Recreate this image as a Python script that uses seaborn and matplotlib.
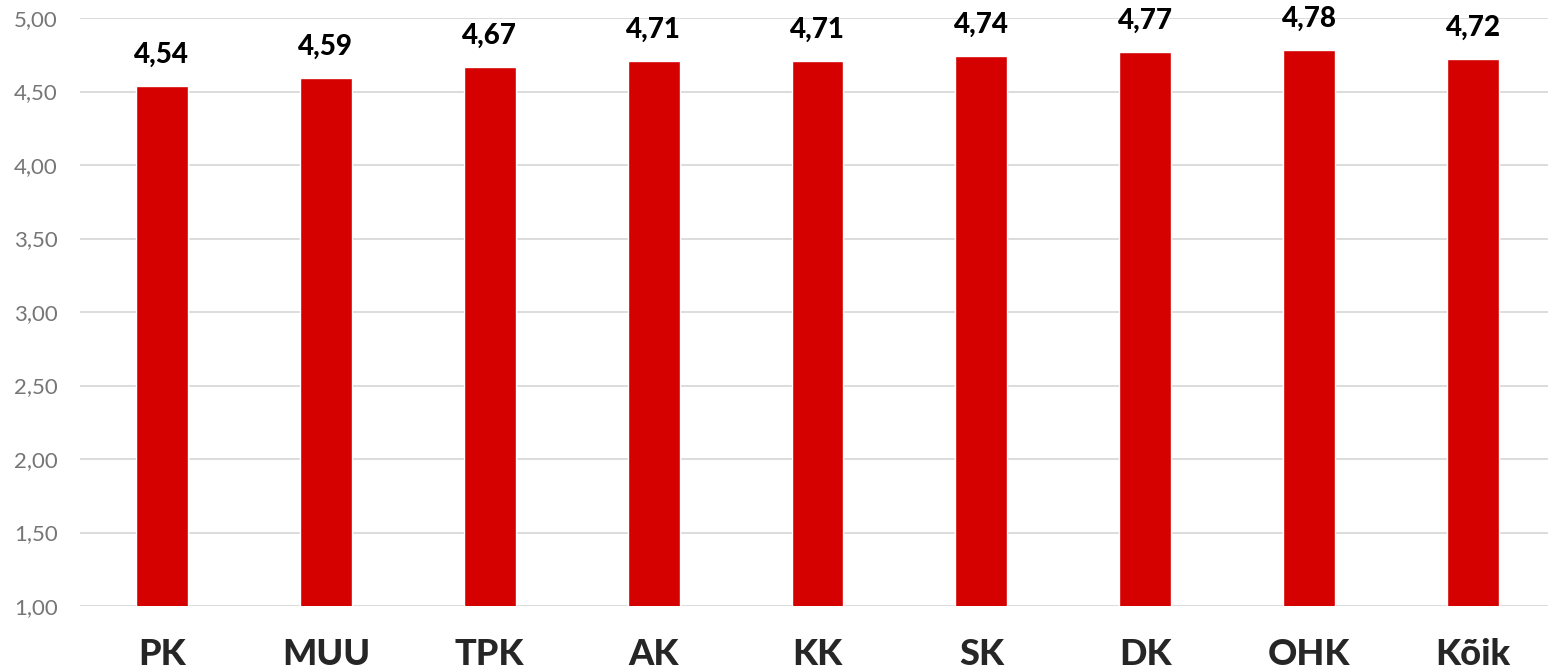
import matplotlib.pyplot as plt
import pandas as pd
import seaborn as sns
from matplotlib.ticker import FuncFormatter

# Data
categories = ['PK', 'MUU', 'TPK', 'AK', 'KK', 'SK', 'DK', 'OHK', 'Kõik']
values = [4.54, 4.59, 4.67, 4.71, 4.71, 4.74, 4.77, 4.78, 4.72]
y_ticks = [1.0, 1.5, 2.0, 2.5, 3.0, 3.5, 4.0, 4.5, 5.0]

df = pd.DataFrame({'group': categories, 'value': values})

sns.set_style('white')
plt.rcParams['font.family'] = ['Lato', 'DejaVu Sans']

fig = plt.figure(figsize=(15.48, 6.71), dpi=100)
ax = fig.add_axes([80 / 1548, 65 / 671, 1475 / 1548, 588 / 671])

sns.barplot(data=df, x='group', y='value', color='#D50000', saturation=1,
            width=0.317, order=categories, ax=ax)

ax.set_ylim(1.0, 5.0)
ax.set_xlim(-0.5, len(categories) - 0.5)
ax.set_yticks(y_ticks)
ax.yaxis.set_major_formatter(FuncFormatter(lambda v, p: f'{v:.2f}'.replace('.', ',')))
ax.grid(axis='y', color='#D9D9D9', linewidth=1.3)
ax.set_axisbelow(True)
for s in ax.spines.values():
    s.set_visible(False)

ax.tick_params(axis='y', length=0, pad=16, labelsize=16, labelcolor='#767676')
ax.tick_params(axis='x', length=0, pad=23, labelsize=26)
for lab in ax.get_xticklabels():
    lab.set_fontweight('black')
ax.set_xlabel('')
ax.set_ylabel('')

# value labels
for i, v in enumerate(values):
    ax.annotate(f'{v:.2f}'.replace('.', ','), (i, v), xytext=(0, 13),
                textcoords='offset points', ha='center', va='bottom',
                fontsize=20, fontweight='black', color='black')

fig.savefig('out.png', dpi=100)
